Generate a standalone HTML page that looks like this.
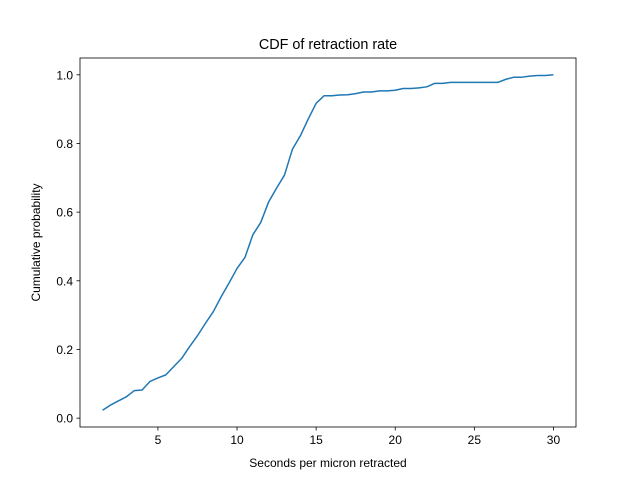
<!DOCTYPE html>
<html><head><meta charset="utf-8"><style>body{margin:0;background:#fff}svg{display:block;font-family:"Liberation Sans","DejaVu Sans",sans-serif}</style></head>
<body>
<svg id="c" width="640" height="480">
<rect width="640" height="480" fill="#fff"/>
<text x="328" y="49" font-size="14.4" text-anchor="middle">CDF of retraction rate</text>
<text x="328" y="467" font-size="12" text-anchor="middle">Seconds per micron retracted</text>
<text transform="translate(40,242.5) rotate(-90)" font-size="12" text-anchor="middle">Cumulative probability</text>
<g id="ticks"></g>
<path id="line" fill="none" stroke="#1f77b4" stroke-width="1.5" stroke-linejoin="round"/>
<rect x="80" y="58" width="496" height="369" fill="none" stroke="#000" stroke-width="0.8"/>
</svg>
<script>
const xs=[1.5,2,2.5,3,3.5,4,4.5,5,5.5,6,6.5,7,7.5,8,8.5,9,9.5,10,10.5,11,11.5,12,12.5,13,13.5,14,14.5,15,15.5,16,16.5,17,17.5,18,18.5,19,19.5,20,20.5,21,21.5,22,22.5,23,23.5,24,24.5,25,25.5,26,26.5,27,27.5,28,28.5,29,29.5,30];
const ys=[.023,.038,.05,.062,.08,.082,.107,.117,.126,.15,.174,.208,.24,.276,.31,.354,.394,.436,.468,.534,.57,.63,.67,.708,.783,.822,.871,.917,.939,.939,.941,.942,.945,.95,.95,.953,.953,.955,.96,.96,.962,.965,.975,.975,.978,.978,.978,.978,.978,.978,.978,.987,.993,.993,.996,.998,.998,1.0];
const xTicks=[5,10,15,20,25,30];
const yTicks=[0,0.2,0.4,0.6,0.8,1.0];
const L=80,R=576,T=58,B=427;
const x0=0.075,x1=31.425,y0=-0.0258,y1=1.0489;
const X=v=>L+(v-x0)/(x1-x0)*(R-L);
const Y=v=>B-(v-y0)/(y1-y0)*(B-T);
const ns="http://www.w3.org/2000/svg";
document.getElementById('line').setAttribute('d',xs.map((v,i)=>(i?'L':'M')+X(v).toFixed(2)+' '+Y(ys[i]).toFixed(2)).join(''));
const g=document.getElementById('ticks');
function mk(t,a){const e=document.createElementNS(ns,t);for(const k in a)e.setAttribute(k,a[k]);g.appendChild(e);return e;}
xTicks.forEach(v=>{const px=X(v);
const l=mk('line',{x1:px,x2:px,y1:B,y2:B+3.5,stroke:'#000','stroke-width':0.8});


const t=mk('text',{x:px,y:B+17,'font-size':12,'text-anchor':'middle'});t.textContent=v;

});
yTicks.forEach(v=>{const py=Y(v);
const l=mk('line',{x1:L-3.5,x2:L,y1:py,y2:py,stroke:'#000','stroke-width':0.8});


const t=mk('text',{x:L-7,y:py+4.5,'font-size':12,'text-anchor':'end'});t.textContent=v.toFixed(1);

});
</script>
</body></html>
